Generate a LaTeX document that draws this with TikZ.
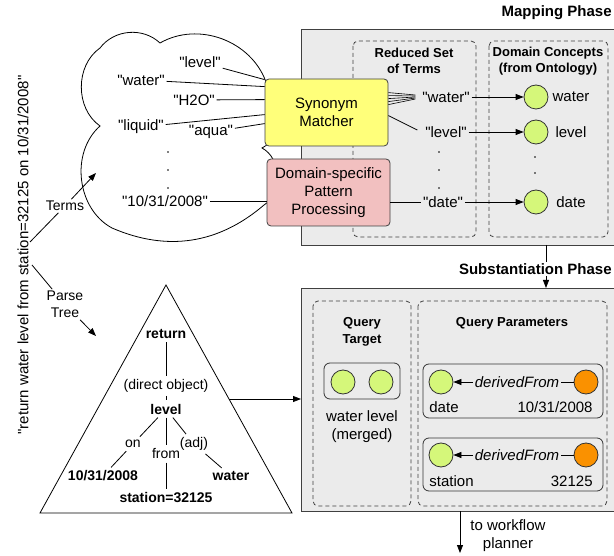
\documentclass[tikz,border=0pt]{standalone}
\usepackage{fontspec}
\setmainfont{Liberation Sans}[Ligatures=TeXOff]
\usetikzlibrary{arrows.meta,calc}
\definecolor{synyel}{RGB}{255,255,122}
\definecolor{patpink}{RGB}{242,192,192}
\definecolor{phgray}{RGB}{235,235,235}
\definecolor{concgreen}{RGB}{213,247,122}
\definecolor{valorange}{RGB}{250,145,0}
\begin{document}
\begin{tikzpicture}[x=1pt,y=-1pt,line width=0.8pt,
  txt/.style={inner sep=1.5pt,font=\fontsize{15}{18}\selectfont,align=center},
  lbl/.style={inner sep=1.5pt,font=\fontsize{14}{17}\selectfont,align=center},
  hdr/.style={inner sep=0pt,font=\bfseries\fontsize{13}{16}\selectfont,align=center},
  phlbl/.style={inner sep=1pt,font=\bfseries\fontsize{15}{18}\selectfont,anchor=east},
  tre/.style={inner sep=3pt,font=\fontsize{14}{17}\selectfont},
  treb/.style={inner sep=3pt,font=\bfseries\fontsize{14}{17}\selectfont},
  phase/.style={draw=black!75,fill=phgray,anchor=north west,inner sep=0pt},
  dbox/.style={draw=black!75,dash pattern=on 4pt off 3pt,rounded corners=5pt},
  ibox/.style={draw=black!80,rounded corners=6pt,fill=phgray},
  proc/.style={draw=black!75,rounded corners=4pt,minimum width=123pt,minimum height=67pt,
    inner sep=0pt,align=center,font=\fontsize{15}{18}\selectfont},
  conc/.style={circle,draw=black!80,fill=concgreen,minimum size=24pt,inner sep=0pt},
  val/.style={circle,draw=black!80,fill=valorange,minimum size=24pt,inner sep=0pt},
  dotn/.style={circle,fill=black,minimum size=1.7pt,inner sep=0pt},
  arr/.style={-{Triangle[length=8pt,width=6pt]}}]
\useasboundingbox (0,0) rectangle (614,556);
\clip (0,0) rectangle (614,556);

% phase boxes
\node[phase,minimum width=330pt,minimum height=216pt] (map) at (301,29) {};
\node[phase,minimum width=330pt,minimum height=223pt] (subst) at (301,288) {};
\node[phlbl] (maplbl) at (613,13) {Mapping Phase};
\node[phlbl] (sublbl) at (613,269) {Substantiation Phase};

% dashed groups
\draw[dbox] (353,41) rectangle (476,237);
\draw[dbox] (489,41) rectangle (608,237);
\draw[dbox] (313,301) rectangle (411,506);
\draw[dbox] (418,301) rectangle (607,506);
\node[hdr] (rst) at (414,61) {Reduced Set\\of Terms};
\node[hdr] (dco) at (548,61) {Domain Concepts\\(from Ontology)};
\node[hdr,font=\bfseries\fontsize{13}{17}\selectfont] (qt) at (362,331.5) {Query\\Target};
\node[hdr] (qp) at (512,323) {Query Parameters};

% cloud
\draw[fill=white] (100,126) to[bend left=55] (100,48) to[bend left=48] (160,43)
  to[bend left=50] (266,82) to[bend left=60] (262,148) to[bend left=60] (264,205)
  to[bend left=32] (112,228) to[bend left=55] (100,126) -- cycle;

% terms in cloud
\node[txt] (tlevel) at (200,62) {"level"};
\node[txt] (twater) at (141,80) {"water"};
\node[txt] (th2o) at (194,100) {"H2O"};
\node[txt] (tliquid) at (141,127) {"liquid"};
\node[txt] (taqua) at (211,132) {"aqua"};
\node[txt] (tdate) at (165,201) {"10/31/2008"};
\node[dotn] (cd1) at (168,152) {};
\node[dotn] (cd2) at (168,170) {};
\node[dotn] (cd3) at (168,188) {};

% processing boxes
\node[proc,fill=synyel] (syn) at (326.5,112.5) {Synonym\\Matcher};
\node[proc,fill=patpink] (pat) at (328.5,192.5) {Domain-specific\\Pattern\\Processing};

\draw (tlevel) -- ($(syn.north west)+(0,1)$);
\draw (twater) -- ($(syn.north west)+(0,8)$);
\draw (th2o) -- ($(syn.north west)+(0,21)$);
\draw (tliquid) -- ($(syn.north west)+(0,36)$);
\draw (taqua) -- ($(syn.north west)+(0,45)$);
\draw (tdate) -- (tdate -| pat.west);

% reduced terms
\node[txt] (rwater) at (446,97) {"water"};
\node[txt] (rlevel) at (446,132) {"level"};
\node[txt] (rdate) at (443,202) {"date"};
\node[dotn] (rd1) at (439,152) {};
\node[dotn] (rd2) at (439,170) {};
\node[dotn] (rd3) at (439,188) {};

\foreach \a/\b in {14/-2,17/-1,20/0,23/1,26/2}
  \draw[line width=0.6pt] ($(syn.north east)+(0,\a)$) -- ($(rwater.west)+(-5,\b)$);
\draw ($(syn.north east)+(0,37)$) -- ($(rlevel.west)+(-6,-2)$);
\draw (pat.east |- rdate) -- (rdate);

% concepts
\node[conc] (cwater) at (536,97) {};
\node[conc] (clevel) at (536,132) {};
\node[conc] (cdate) at (536,202) {};
\node[txt] (lwater) at (571,97) {water};
\node[txt] (llevel) at (571,132) {level};
\node[txt] (ldate) at (571,202) {date};
\node[dotn] (cc1) at (535,157) {};
\node[dotn] (cc2) at (535,173) {};
\draw[arr] (rwater) -- (cwater);
\draw[arr] (rlevel) -- (clevel);
\draw[arr] (rdate) -- (cdate);

% mapping -> substantiation
\coordinate (mp) at (546,245);
\draw (mp) -- (mp |- sublbl.north);
\draw[arr] (mp |- sublbl.south) -- (mp |- subst.north);

% query target
\draw[ibox] (324,363) rectangle (400,399);
\node[conc] (qt1) at (343,382) {};
\node[conc] (qt2) at (381,382) {};
\node[txt] (wlm) at (362,427) {water level\\(merged)};

% query parameters
\draw[ibox] (423,364) rectangle (603,418);
\draw[ibox] (423,438) rectangle (603,491);
\node[conc] (g1) at (441,382) {};
\node[val] (o1) at (586,382) {};
\node[txt,font=\itshape\fontsize{15}{18}\selectfont] (df1) at (517,382) {derivedFrom};
\draw (o1) -- (df1);
\draw[arr] (df1) -- (g1);
\node[txt,anchor=west] (pdate) at (427.5,407) {date};
\node[txt,anchor=east] (pdval) at (594.5,407) {10/31/2008};
\node[conc] (g2) at (441,455) {};
\node[val] (o2) at (586,455) {};
\node[txt,font=\itshape\fontsize{15}{18}\selectfont] (df2) at (517,455) {derivedFrom};
\draw (o2) -- (df2);
\draw[arr] (df2) -- (g2);
\node[txt,anchor=west] (pst) at (427.5,481) {station};
\node[txt,anchor=east] (psval) at (594.5,481) {32125};

% workflow
\coordinate (wfA) at (460,511);
\coordinate (wfB) at (460,553);
\draw[arr] (wfA) -- (wfB);
\node[txt] (wfl) at (508,536) {to workflow\\planner};

% sentence
\node[txt,rotate=90] (sent) at (23,255) {"return water level from station=32125 on 10/31/2008"};
\coordinate (sT) at (30,242);
\coordinate (sP) at (32,265);
\node[lbl] (terms) at (65,206) {Terms};
\node[lbl] (ptree) at (65,304.5) {Parse\\Tree};
\coordinate (clin) at (96,173);
\coordinate (trin) at (96,336);
\draw (sT) -- (terms);
\draw[arr] (terms) -- (clin);
\draw (sP) -- (ptree);
\draw[arr] (ptree) -- (trin);

% parse tree
\draw (166,285) -- (292,513) -- (40,513) -- cycle;
\coordinate (triR) at (229,399);
\draw[arr] (triR) -- (triR -| subst.west);
\node[treb] (tret) at (166,334) {return};
\node[tre] (tdo) at (166,386) {(direct object)};
\node[treb] (tlev) at (166,409) {level};
\node[tre] (ton) at (133,444) {on};
\node[tre] (tfrom) at (166,454) {from};
\node[tre] (tadj) at (194,444) {(adj)};
\node[treb] (tdt) at (103,476) {10/31/2008};
\node[treb] (tst) at (166,498) {station=32125};
\node[treb] (twa) at (231,476) {water};
\draw (tret) -- (tdo);
\draw (tdo) -- (tlev);
\draw (tlev) -- (ton);
\draw (tlev) -- (tfrom);
\draw (tlev) -- (tadj);
\draw (ton) -- (tdt);
\draw (tfrom) -- (tst);
\draw (tadj) -- (twa);
\end{tikzpicture}
\end{document}
